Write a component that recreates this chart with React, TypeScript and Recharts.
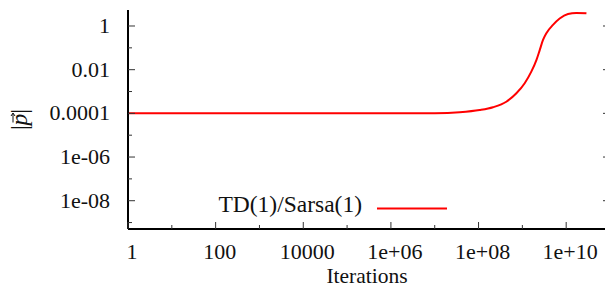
import { LineChart, Line, XAxis, YAxis, Legend } from 'recharts';

// iterations vs |p| (log-log)
const iterations = [
  1, 10, 100, 1e3, 1e4, 1e5, 1e6, 3e6, 1e7, 3.7e7, 1.06e8, 2.14e8, 4.3e8, 7.3e8, 1.13e9, 1.6e9,
  2.09e9, 2.49e9, 2.96e9, 3.53e9, 5e9, 7.1e9, 1.1e10, 1.7e10, 2.9e10,
];
const pNorm = [
  1e-4, 1e-4, 1e-4, 1e-4, 1e-4, 1e-4, 1e-4, 1e-4, 1.01e-4, 1.12e-4, 1.41e-4, 1.9e-4, 3.4e-4,
  8.3e-4, 2.4e-3, 8.1e-3, 0.0275, 0.079, 0.23, 0.47, 1.12, 2.19, 3.55, 3.98, 3.8,
];

const xTickValues = [1, 100, 1e4, 1e6, 1e8, 1e10];
const xTickLabels = ['1', '100', '10000', '1e+06', '1e+08', '1e+10'];
const xMinorTicks = [10, 1e3, 1e5, 1e7, 1e9, 1e11];

const yTickValues = [1e-8, 1e-6, 1e-4, 1e-2, 1];
const yTickLabels = ['1e-08', '1e-06', '0.0001', '0.01', '1'];
const yMinorTicks = [1e-9, 1e-7, 1e-5, 1e-3, 0.1];

const seriesName = 'TD(1)/Sarsa(1)';

const data = iterations.map((x, i) => ({ x, p: pNorm[i] }));
const xTicks = [...xTickValues, ...xMinorTicks].sort((a, b) => a - b);
const yTicks = [...yTickValues, ...yMinorTicks].sort((a, b) => a - b);

const SERIF = 'Liberation Serif, DejaVu Serif, serif';
const tickStyle = { fontFamily: SERIF, fontSize: 22 };
const titleStyle = { fontFamily: SERIF, fontSize: 23.5 };
const TICK = '#333';
const MAJOR = 7;
const MINOR = 4;

function BottomTick({ x, y, payload }: any) {
  const i = xTickValues.indexOf(payload.value);
  return (
    <g>
      <line x1={x} x2={x} y1={y} y2={y - (i >= 0 ? MAJOR : MINOR)} stroke={TICK} />
      {i >= 0 && (
        <text x={x + 4} y={y + 30} textAnchor="middle" style={tickStyle} fill="#111">
          {xTickLabels[i]}
        </text>
      )}
    </g>
  );
}

function TopTick({ x, y, payload }: any) {
  const major = xTickValues.includes(payload.value);
  return <line x1={x} x2={x} y1={y} y2={y + (major ? MAJOR : MINOR)} stroke={TICK} />;
}

function LeftTick({ x, y, payload }: any) {
  const i = yTickValues.indexOf(payload.value);
  return (
    <g>
      <line x1={x} x2={x + (i >= 0 ? MAJOR : MINOR)} y1={y} y2={y} stroke={TICK} />
      {i >= 0 && (
        <text x={x - 18} y={y + 7} textAnchor="end" style={tickStyle} fill="#111">
          {yTickLabels[i]}
        </text>
      )}
    </g>
  );
}

function RightTick({ x, y, payload }: any) {
  const major = yTickValues.includes(payload.value);
  return <line x1={x} x2={x - (major ? MAJOR : MINOR)} y1={y} y2={y} stroke={TICK} />;
}

function XTitle({ viewBox }: any) {
  return (
    <text
      x={viewBox.x + viewBox.width / 2 - 2}
      y={viewBox.y + 54}
      textAnchor="middle"
      style={{ fontFamily: SERIF, fontSize: 21.5 }}
      fill="#111"
    >
      Iterations
    </text>
  );
}

function YTitle({ viewBox }: any) {
  const cy = viewBox.y + viewBox.height / 2;
  return (
    <g transform={`translate(27, ${cy}) rotate(-90)`}>
      <text x={0} y={0} textAnchor="middle" style={titleStyle} fill="#111">
        |<tspan fontStyle="italic">p</tspan>|
      </text>
      <line x1={-3} x2={6} y1={-14} y2={-14} stroke="#111" strokeWidth={1} />
      <path d="M 3.5 -16 L 6.5 -14 L 3.5 -12" fill="none" stroke="#111" strokeWidth={1} />
    </g>
  );
}

function LegendBox({ payload }: any) {
  return (
    <svg width={605} height={288}>
      {(payload || []).map((entry: any) => (
        <g key={entry.value}>
          <text x={362} y={212} textAnchor="end" style={titleStyle} fill="#111">
            {entry.value}
          </text>
          <line x1={377} x2={447} y1={208.5} y2={208.5} stroke={entry.color} strokeWidth={2} />
        </g>
      ))}
    </svg>
  );
}

export default function App() {
  return (
    <div
      style={{
        position: 'absolute',
        left: 0,
        top: 0,
        width: 605,
        height: 288,
        overflow: 'hidden',
        background: '#fff',
      }}
    >
      <LineChart width={611} height={288} data={data} margin={{ top: 10, right: 0, bottom: 0, left: 0 }}>
        <XAxis
          xAxisId="bottom"
          dataKey="x"
          type="number"
          scale="log"
          domain={[1, 1e11]}
          allowDataOverflow
          ticks={xTicks}
          interval={0}
          tickSize={0}
          tickMargin={0}
          tickLine={false}
          tick={<BottomTick />}
          height={59}
          axisLine={{ stroke: '#000', strokeWidth: 2 }}
          label={<XTitle />}
        />
        <XAxis
          xAxisId="top"
          orientation="top"
          dataKey="x"
          type="number"
          scale="log"
          domain={[1, 1e11]}
          allowDataOverflow
          ticks={xTicks}
          interval={0}
          tickSize={0}
          tickMargin={0}
          tickLine={false}
          tick={<TopTick />}
          height={0}
          axisLine={{ stroke: '#000', strokeWidth: 2 }}
        />
        <YAxis
          yAxisId="left"
          type="number"
          scale="log"
          domain={[5.07e-10, 5.4]}
          allowDataOverflow
          ticks={yTicks}
          interval={0}
          tickSize={0}
          tickMargin={0}
          tickLine={false}
          tick={<LeftTick />}
          width={128}
          axisLine={{ stroke: '#000', strokeWidth: 2 }}
          label={<YTitle />}
        />
        <YAxis
          yAxisId="right"
          orientation="right"
          type="number"
          scale="log"
          domain={[5.07e-10, 5.4]}
          allowDataOverflow
          ticks={yTicks}
          interval={0}
          tickSize={0}
          tickMargin={0}
          tickLine={false}
          tick={<RightTick />}
          width={1}
          axisLine={{ stroke: '#000', strokeWidth: 2 }}
        />
        <Legend
          layout="horizontal"
          verticalAlign="middle"
          align="center"
          wrapperStyle={{ left: 0, top: 0, width: 605, height: 288, pointerEvents: 'none' }}
          content={<LegendBox />}
        />
        <Line
          xAxisId="bottom"
          yAxisId="left"
          dataKey="p"
          name={seriesName}
          type="monotone"
          stroke="#ff0000"
          strokeWidth={2}
          dot={false}
          isAnimationActive={false}
        />
      </LineChart>
    </div>
  );
}
